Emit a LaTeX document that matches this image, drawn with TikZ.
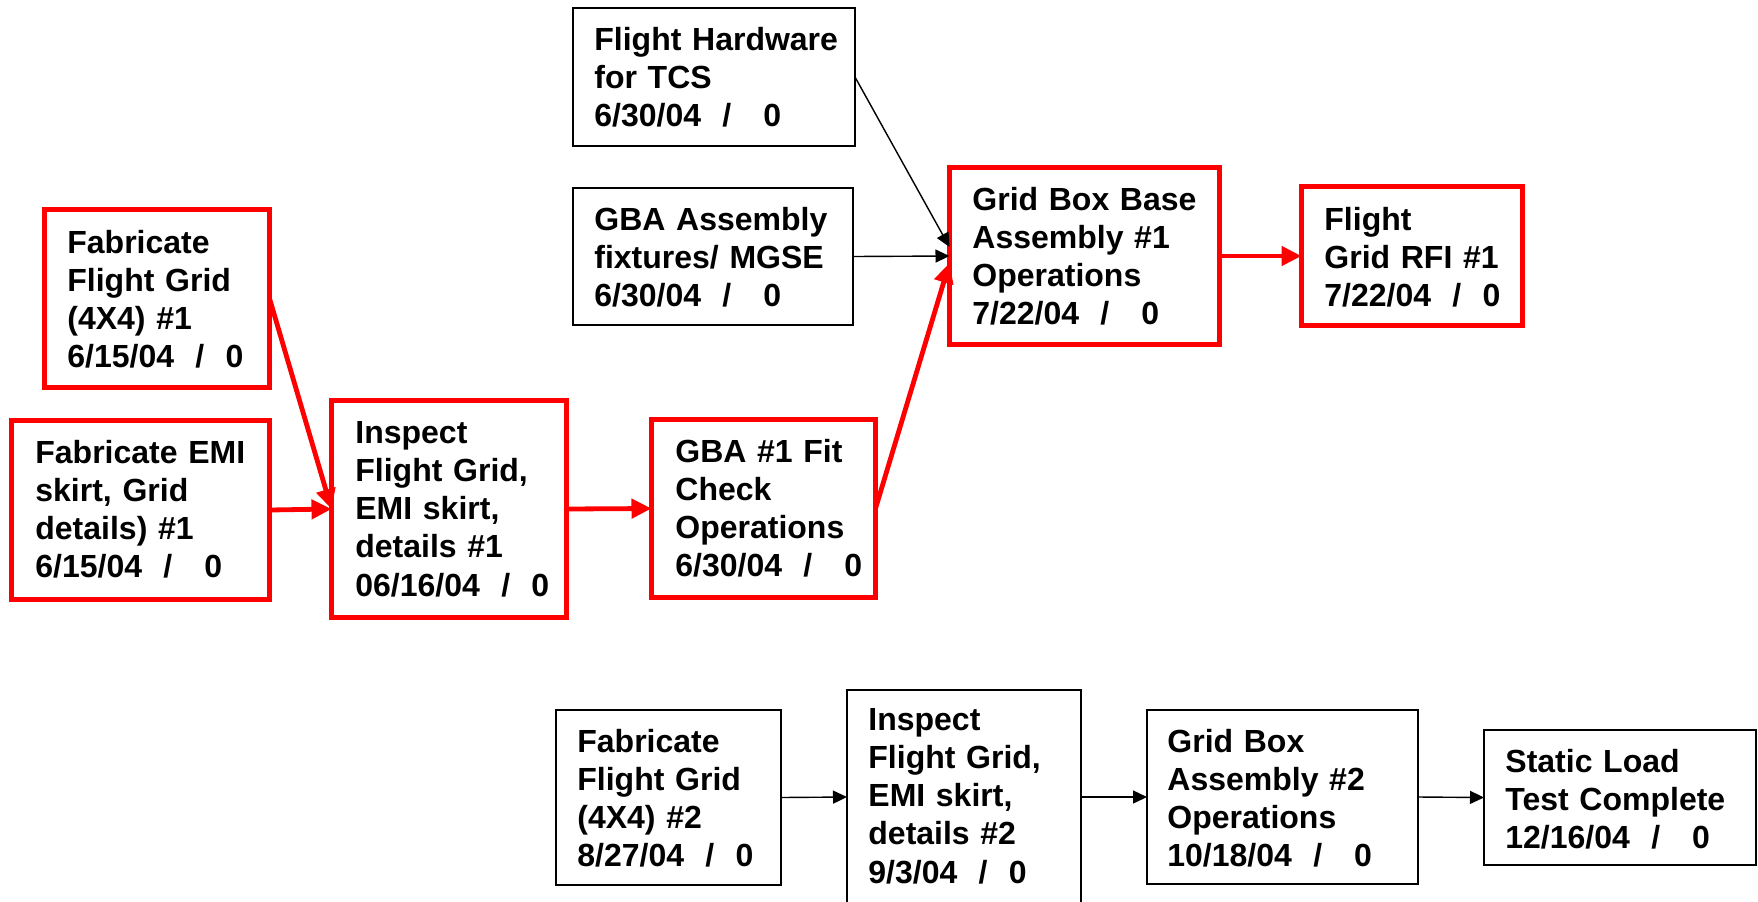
\documentclass[tikz,border=0pt]{standalone}
\usepackage{fontspec}
\setmainfont{Liberation Sans}
\usetikzlibrary{arrows.meta}
\begin{document}
\begin{tikzpicture}[x=0.5pt,y=-0.5pt,
  rbox/.style={draw=red, line width=2.5pt, fill=white, inner sep=0pt, outer sep=0pt},
  kbox/.style={draw=black, line width=1pt, fill=white, inner sep=0pt, outer sep=0pt},
  txt/.style={anchor=base west, inner sep=0pt, text width=150pt, align=left,
    font=\fontsize{16pt}{19.15pt}\selectfont\bfseries},
  rarrow/.style={draw=red, line width=2.4pt, -{Triangle[length=10pt,width=9.5pt]}},
  karrow/.style={draw=black, line width=0.7pt, -{Triangle[length=7pt,width=6.5pt]}}
]
\useasboundingbox (0,0) rectangle (1758,901);
% boxes
\node[kbox, minimum width=141pt, minimum height=69pt] (fh) at (714,77) {};
\node[kbox, minimum width=140pt, minimum height=68.5pt] (fix) at (713,256.5) {};
\node[rbox, minimum width=112.5pt, minimum height=89pt] (fab1) at (157,298.5) {};
\node[rbox, minimum width=129pt, minimum height=89.5pt] (emi) at (140.5,510) {};
\node[rbox, minimum width=117.5pt, minimum height=108.5pt] (insp1) at (449,509) {};
\node[rbox, minimum width=112pt, minimum height=89pt] (gfit) at (763.5,508.5) {};
\node[rbox, minimum width=135pt, minimum height=88.5pt] (gbb) at (1084.5,256) {};
\node[rbox, minimum width=110.5pt, minimum height=69.5pt] (rfi) at (1412,256) {};
\node[kbox, minimum width=112.5pt, minimum height=87.5pt] (fab2) at (668.5,797.5) {};
\node[kbox, minimum width=117pt, minimum height=107pt] (insp2) at (964,797) {};
\node[kbox, minimum width=135.5pt, minimum height=87pt] (gb2) at (1282.5,797) {};
\node[kbox, minimum width=136pt, minimum height=67.5pt] (static) at (1620,797.5) {};
% texts
\node[txt] (fht) at (594,50) {Flight Hardware\\for TCS\\6/30/04~~/~~~0};
\node[txt] (fixt) at (594,230) {GBA Assembly\\fixtures/ MGSE\\6/30/04~~/~~~0};
\node[txt] (fab1t) at (67,253) {Fabricate\\Flight Grid\\(4X4) \#1\\6/15/04~~/~~0};
\node[txt] (emit) at (35,463) {Fabricate EMI\\skirt, Grid\\details) \#1\\6/15/04~~/~~~0};
\node[txt] (insp1t) at (355,443) {Inspect\\Flight Grid,\\EMI skirt,\\details \#1\\06/16/04~~/~~0};
\node[txt] (gfitt) at (675,462) {GBA \#1 Fit\\Check\\Operations\\6/30/04~~/~~~0};
\node[txt] (gbbt) at (972,210) {Grid Box Base\\Assembly \#1\\Operations\\7/22/04~~/~~~0};
\node[txt] (rfit) at (1324,230) {Flight\\Grid RFI \#1\\7/22/04~~/~~0};
\node[txt] (fab2t) at (577,752) {Fabricate\\Flight Grid\\(4X4) \#2\\8/27/04~~/~~0};
\node[txt] (insp2t) at (868,730) {Inspect\\Flight Grid,\\EMI skirt,\\details \#2\\9/3/04~~/~~0};
\node[txt] (gb2t) at (1167,752) {Grid Box\\Assembly \#2\\Operations\\10/18/04~~/~~~0};
\node[txt] (statict) at (1505,772) {Static Load\\Test Complete\\12/16/04~~/~~~0};
% connectors
\draw[rarrow] (fab1.east) -- (insp1.west);
\draw[rarrow] (emi.east) -- (insp1.west);
\draw[rarrow] (insp1.east) -- (gfit.west);
\draw[rarrow] (gfit.east) -- ([yshift=-3.5pt]gbb.west);
\draw[karrow] (fh.east) -- ([yshift=4.5pt]gbb.west);
\draw[karrow] (fix.east) -- (gbb.west);
\draw[rarrow] (gbb.east) -- (rfi.west);
\draw[karrow] (fab2.east) -- (insp2.west);
\draw[karrow] (insp2.east) -- (gb2.west);
\draw[karrow] (gb2.east) -- (static.west);
\end{tikzpicture}
\end{document}
